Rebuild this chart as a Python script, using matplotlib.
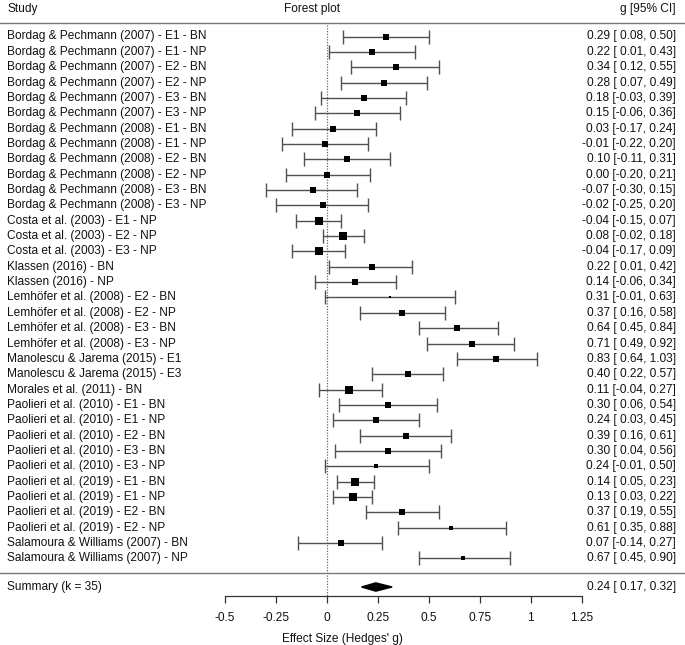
import matplotlib
matplotlib.use("Agg")
import matplotlib.pyplot as plt
from matplotlib.patches import Polygon
import matplotlib.transforms as mtransforms

plt.rcParams['font.family'] = ['Liberation Sans', 'DejaVu Sans']

studies = [
    "Bordag & Pechmann (2007) - E1 - BN",
    "Bordag & Pechmann (2007) - E1 - NP",
    "Bordag & Pechmann (2007) - E2 - BN",
    "Bordag & Pechmann (2007) - E2 - NP",
    "Bordag & Pechmann (2007) - E3 - BN",
    "Bordag & Pechmann (2007) - E3 - NP",
    "Bordag & Pechmann (2008) - E1 - BN",
    "Bordag & Pechmann (2008) - E1 - NP",
    "Bordag & Pechmann (2008) - E2 - BN",
    "Bordag & Pechmann (2008) - E2 - NP",
    "Bordag & Pechmann (2008) - E3 - BN",
    "Bordag & Pechmann (2008) - E3 - NP",
    "Costa et al. (2003) - E1 - NP",
    "Costa et al. (2003) - E2 - NP",
    "Costa et al. (2003) - E3 - NP",
    "Klassen (2016) - BN",
    "Klassen (2016) - NP",
    "Lemhöfer et al. (2008) - E2 - BN",
    "Lemhöfer et al. (2008) - E2 - NP",
    "Lemhöfer et al. (2008) - E3 - BN",
    "Lemhöfer et al. (2008) - E3 - NP",
    "Manolescu & Jarema (2015) - E1",
    "Manolescu & Jarema (2015) - E3",
    "Morales et al. (2011) - BN",
    "Paolieri et al. (2010) - E1 - BN",
    "Paolieri et al. (2010) - E1 - NP",
    "Paolieri et al. (2010) - E2 - BN",
    "Paolieri et al. (2010) - E3 - BN",
    "Paolieri et al. (2010) - E3 - NP",
    "Paolieri et al. (2019) - E1 - BN",
    "Paolieri et al. (2019) - E1 - NP",
    "Paolieri et al. (2019) - E2 - BN",
    "Paolieri et al. (2019) - E2 - NP",
    "Salamoura & Williams (2007) - BN",
    "Salamoura & Williams (2007) - NP",
]
g = [0.29, 0.22, 0.34, 0.28, 0.18, 0.15,
     0.03, -0.01, 0.10, 0.00, -0.07, -0.02,
     -0.04, 0.08, -0.04,
     0.22, 0.14,
     0.31, 0.37, 0.64, 0.71,
     0.83, 0.40,
     0.11,
     0.30, 0.24, 0.39, 0.30, 0.24,
     0.14, 0.13, 0.37, 0.61,
     0.07, 0.67]
ci_low = [0.08, 0.01, 0.12, 0.07, -0.03, -0.06,
          -0.17, -0.22, -0.11, -0.20, -0.30, -0.25,
          -0.15, -0.02, -0.17,
          0.01, -0.06,
          -0.01, 0.16, 0.45, 0.49,
          0.64, 0.22,
          -0.04,
          0.06, 0.03, 0.16, 0.04, -0.01,
          0.05, 0.03, 0.19, 0.35,
          -0.14, 0.45]
ci_high = [0.50, 0.43, 0.55, 0.49, 0.39, 0.36,
           0.24, 0.20, 0.31, 0.21, 0.15, 0.20,
           0.07, 0.18, 0.09,
           0.42, 0.34,
           0.63, 0.58, 0.84, 0.92,
           1.03, 0.57,
           0.27,
           0.54, 0.45, 0.61, 0.56, 0.50,
           0.23, 0.22, 0.55, 0.88,
           0.27, 0.90]
# relative weight (box side, pixels)
box_size = [6.2, 6.2, 6.2, 6.2, 6.2, 5.8,
            6.2, 6.2, 6.2, 6.2, 5.8, 5.5,
            8.2, 8.2, 8.2,
            6.2, 6.6,
            2.8, 6.2, 6.6, 5.8,
            6.6, 6.6,
            7.6,
            5.8, 5.8, 5.8, 5.2, 4.6,
            8.8, 8.8, 6.2, 4.6,
            5.8, 4.6]
summary_label = "Summary (k = 35)"
summary_g, summary_low, summary_high = 0.24, 0.17, 0.32
tick_values = [-0.5, -0.25, 0, 0.25, 0.5, 0.75, 1, 1.25]
tick_labels = ["-0.5", "-0.25", "0", "0.25", "0.5", "0.75", "1", "1.25"]

W, H = 685, 645
fig = plt.figure(figsize=(W / 100, H / 100), dpi=100)
ax_bottom_px = 596
ax = fig.add_axes([0, (H - ax_bottom_px) / H, 1, ax_bottom_px / H])

x0_px, scale = 326.9, 203.8
ax.set_xlim(-x0_px / scale, (W - x0_px) / scale)
row0_px, row_h = 36.5, 15.35
ax.set_ylim((ax_bottom_px - row0_px) / row_h, -row0_px / row_h)

def ypx(p):
    return (p - row0_px) / row_h

n = len(studies)
rows = list(range(n))
px2pt = 0.72
line_col = "#505050"

for i in rows:
    ax.errorbar(g[i], i, xerr=[[g[i] - ci_low[i]], [ci_high[i] - g[i]]],
                fmt='none', ecolor=line_col, elinewidth=1.0,
                capsize=4.8, capthick=1.0, zorder=2)
    ax.plot(g[i], i, marker='s', linestyle='none', color='black',
            markeredgewidth=0, markersize=box_size[i] * px2pt, zorder=3)

# separators
top_y, bot_y = ypx(23), ypx(572.5)
ax.axhline(top_y, color='#777777', lw=1.0)
ax.axhline(bot_y, color='#777777', lw=1.0)
ax.plot([0, 0], [top_y + 0.1, ax.get_ylim()[0]], color='#666666',
        lw=0.9, linestyle=(0, (1, 1.2)), zorder=1)

# summary diamond
sy = ypx(587)
dh = 0.27
ax.add_patch(Polygon([[summary_low, sy], [summary_g, sy - dh],
                      [summary_high, sy], [summary_g, sy + dh]],
                     closed=True, color='black', zorder=3))

fs = 8.6
tc = '#111111'
trans = mtransforms.blended_transform_factory(ax.transAxes, ax.transData)
lx, rx = 7 / W, 676 / W

def fmt(v, lo, hi):
    return f"{v:.2f} [{lo:5.2f}, {hi:.2f}]"

for i in rows:
    ax.text(lx, i, studies[i], transform=trans, ha='left', va='center',
            fontsize=fs, color=tc)
    ax.text(rx, i, fmt(g[i], ci_low[i], ci_high[i]), transform=trans,
            ha='right', va='center', fontsize=fs, color=tc)
ax.text(lx, sy, summary_label, transform=trans, ha='left', va='center',
        fontsize=fs, color=tc)
ax.text(rx, sy, fmt(summary_g, summary_low, summary_high), transform=trans,
        ha='right', va='center', fontsize=fs, color=tc)

hy = ypx(9)
ax.text(lx, hy, "Study", transform=trans, ha='left', va='center', fontsize=fs, color=tc)
ax.text(312 / W, hy, "Forest plot", transform=trans, ha='center', va='center', fontsize=fs, color=tc)
ax.text(rx, hy, "g [95% CI]", transform=trans, ha='right', va='center', fontsize=fs, color=tc)

for s in ['top', 'left', 'right']:
    ax.spines[s].set_visible(False)
ax.spines['bottom'].set_bounds(tick_values[0], tick_values[-1])
ax.spines['bottom'].set_linewidth(0.9)
ax.spines['bottom'].set_color('#333333')
ax.set_yticks([])
ax.set_xticks(tick_values)
ax.set_xticklabels(tick_labels)
ax.tick_params(axis='x', direction='out', length=4.8, width=0.9,
               color='#333333', pad=6.5, labelsize=fs, labelcolor=tc)
ax.set_xlabel("Effect Size (Hedges' g)", fontsize=fs, labelpad=7, color=tc)

fig.savefig("out.png", dpi=100)
